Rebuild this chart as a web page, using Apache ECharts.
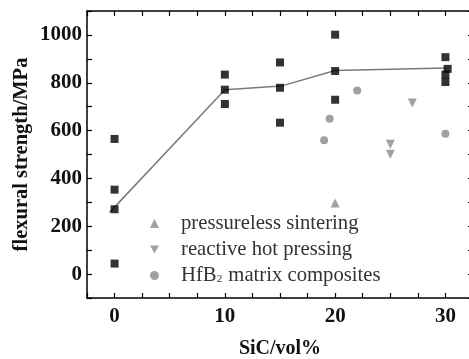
<!DOCTYPE html>
<html>
<head>
<meta charset="utf-8">
<script src="https://cdn.jsdelivr.net/npm/echarts@6/dist/echarts.min.js"></script>
<style>
  html, body { margin: 0; padding: 0; background: #fff; }
  #main { width: 469px; height: 359px; }
</style>
</head>
<body>
<div id="main"></div>
<script>
// measured points (SiC vol%, strength MPa)
const measuredX = [0, 0, 0, 0, 10, 10, 10, 15, 15, 15, 20, 20, 20, 30, 30.2, 30, 30];
const measuredY = [565, 353, 271, 44, 834, 771, 711, 885, 779, 633, 1001, 849, 729, 907, 858, 834, 803];

// average trend line
const trendX = [-0.45, 10, 15.1, 20, 30.1];
const trendY = [258, 771, 786, 851, 862];

const pressurelessX = [20];
const pressurelessY = [297];

const reactiveX = [25, 25, 27];
const reactiveY = [543, 501, 715];

const hfb2X = [19, 19.5, 22, 30];
const hfb2Y = [560, 650, 768, 587];

const legendNames = ['pressureless sintering', 'reactive hot pressing', 'HfB\u2082 matrix composites'];

const zip = (xs, ys) => xs.map((x, i) => [x, ys[i]]);

const serif = 'Liberation Serif';
const grey = '#8a8a8a';
const downTri = 'path://M0,0 L10,0 L5,9 Z';

let myChart = echarts.init(document.getElementById('main'));

let frameX = {
    type: 'value',
    min: -2.5,
    max: 32.5,
    interval: 2.5,
    axisLine: {show: true, onZero: false, lineStyle: {color: '#000', width: 1.5}},
    axisTick: {show: true, inside: true, length: 5, lineStyle: {color: '#000', width: 1.2}},
    splitLine: {show: false}
};
let frameY = {
    type: 'value',
    min: -100,
    max: 1100,
    interval: 100,
    axisLine: {show: true, onZero: false, lineStyle: {color: '#000', width: 1.5}},
    axisTick: {show: true, inside: true, length: 5, lineStyle: {color: '#000', width: 1.2}},
    splitLine: {show: false}
};

let option = {
    animation: false,
    backgroundColor: '#fff',
    grid: {left: 87, right: -4, top: 11, bottom: 61, outerBoundsMode: 'none', containLabel: false},
    legend: {
        data: legendNames,
        orient: 'vertical',
        left: 145,
        top: 208,
        itemWidth: 9,
        itemHeight: 9,
        itemGap: 5,
        formatter: name => (name === legendNames[2] ? 'HfB{s|2} matrix composites' : name),
        textStyle: {
            fontFamily: serif, fontSize: 20.7, color: '#333', padding: [0, 0, 0, 17],
            rich: {s: {fontFamily: serif, fontSize: 11, color: '#333', padding: [7, 1, 0, 0]}}
        }
    },
    xAxis: [
        Object.assign({}, frameX, {
            position: 'bottom',
            name: 'SiC/vol%',
            nameLocation: 'middle',
            nameGap: 41,
            nameTextStyle: {fontFamily: serif, fontSize: 20, fontWeight: 'bold', color: '#111'},
            axisLabel: {
                fontFamily: serif, fontSize: 21, fontWeight: 'bold', color: '#111', margin: 8,
                formatter: v => (v % 10 === 0 ? String(v) : '')
            }
        }),
        Object.assign({}, frameX, {position: 'top', axisLabel: {show: false}})
    ],
    yAxis: [
        Object.assign({}, frameY, {
            position: 'left',
            name: 'flexural strength/MPa',
            nameLocation: 'middle',
            nameGap: 55,
            nameMoveOverlap: false,
            nameTextStyle: {fontFamily: serif, fontSize: 20.5, fontWeight: 'bold', color: '#111'},
            axisLabel: {
                fontFamily: serif, fontSize: 21, fontWeight: 'bold', color: '#111', margin: 5,
                formatter: v => (v >= 0 && v % 200 === 0 ? String(v) : '')
            }
        }),
        Object.assign({}, frameY, {position: 'right', axisLabel: {show: false}})
    ],
    series: [
        {
            name: 'average',
            type: 'line',
            data: zip(trendX, trendY),
            showSymbol: false,
            lineStyle: {color: '#7a7a7a', width: 1.5},
            z: 1
        },
        {
            name: 'measured',
            type: 'scatter',
            data: zip(measuredX, measuredY),
            symbol: 'rect',
            symbolSize: 8,
            itemStyle: {color: '#000'},
            z: 3
        },
        {
            name: legendNames[0],
            type: 'scatter',
            data: zip(pressurelessX, pressurelessY),
            symbol: 'triangle',
            symbolSize: 9,
            itemStyle: {color: grey}
        },
        {
            name: legendNames[1],
            type: 'scatter',
            data: zip(reactiveX, reactiveY),
            symbol: downTri,
            symbolSize: 9,
            itemStyle: {color: grey}
        },
        {
            name: legendNames[2],
            type: 'scatter',
            data: zip(hfb2X, hfb2Y),
            symbol: 'circle',
            symbolSize: 8,
            itemStyle: {color: grey}
        }
    ]
};
myChart.setOption(option);
</script>
</body>
</html>
